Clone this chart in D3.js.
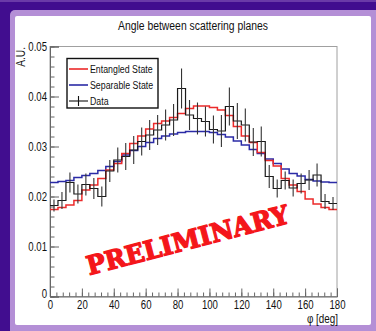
<!DOCTYPE html>
<html>
<head>
<meta charset="utf-8">
<script src="https://cdn.jsdelivr.net/npm/d3@7"></script>
<style>
  body { margin: 0; background: #410d8f; }
  svg { display: block; font-family: "Liberation Sans", Arial, sans-serif; }
</style>
</head>
<body>
<div id="chart"></div>
<script>
// 36 bins of 5 deg, 0..180
const binEdges = d3.range(0, 181, 5);

const entangled = [
  0.0174, 0.0178, 0.0183, 0.0192, 0.0213, 0.0223, 0.0236, 0.0253, 0.0266, 0.0286, 0.0306, 0.0321,
  0.0335, 0.0346, 0.0351, 0.0358, 0.0366, 0.0376, 0.0381, 0.0381, 0.0378, 0.0373, 0.0362, 0.0340,
  0.0321, 0.0308, 0.0288, 0.0272, 0.0261, 0.0236, 0.0223, 0.0210, 0.0195, 0.0185, 0.0178, 0.0174
];
const separable = [
  0.0228, 0.0230, 0.0232, 0.0238, 0.0242, 0.0246, 0.0252, 0.0260, 0.0270, 0.0283, 0.0292, 0.0300,
  0.0308, 0.0316, 0.0321, 0.0325, 0.0328, 0.0330, 0.0330, 0.0330, 0.0328, 0.0324, 0.0319, 0.0311,
  0.0303, 0.0294, 0.0286, 0.0275, 0.0266, 0.0255, 0.0246, 0.0241, 0.0234, 0.0231, 0.0229, 0.0228
];
const dataValues = [
  0.0182, 0.0192, 0.0228, 0.0205, 0.0224, 0.0216, 0.0200, 0.0251, 0.0273, 0.0280, 0.0293, 0.0310,
  0.0323, 0.0333, 0.0343, 0.0353, 0.0416, 0.0363, 0.0356, 0.0350, 0.0334, 0.0331, 0.0380, 0.0351,
  0.0343, 0.0309, 0.0310, 0.0240, 0.0216, 0.0232, 0.0217, 0.0226, 0.0233, 0.0243, 0.0190, 0.0186
];
const dataErrors = [
  0.0012, 0.0017, 0.0020, 0.0019, 0.0022, 0.0021, 0.0020, 0.0022, 0.0025, 0.0027, 0.0028, 0.0028,
  0.0030, 0.0030, 0.0031, 0.0032, 0.0040, 0.0030, 0.0032, 0.0030, 0.0028, 0.0032, 0.0038, 0.0036,
  0.0033, 0.0028, 0.0030, 0.0023, 0.0018, 0.0018, 0.0017, 0.0020, 0.0020, 0.0023, 0.0015, 0.0013
];

const xMajor = d3.range(0, 181, 20);
const xMinor = d3.range(0, 181, 4);
const yMajor = d3.range(0, 0.0501, 0.01);
const yMinor = d3.range(0, 0.0501, 0.002);

const legendItems = [
  { label: "Entangled State", color: "#ec2a2a", type: "line" },
  { label: "Separable State", color: "#2b2ba6", type: "line" },
  { label: "Data", color: "#111", type: "cross" }
];

const W = 376, H = 331;
const svg = d3.select("#chart").append("svg").attr("width", W).attr("height", H);

// purple slide background + lavender frame + white panel
svg.append("rect").attr("width", W).attr("height", H).attr("fill", "#410d8f");
svg.append("rect").attr("x", 0).attr("y", 0).attr("width", W).attr("height", 2).attr("fill", "#6a3aa8");
svg.append("rect").attr("x", 10).attr("y", 10).attr("width", 380).attr("height", 340).attr("rx", 5).attr("fill", "#b48fd6");
svg.append("rect").attr("x", 15).attr("y", 16).attr("width", 356).attr("height", 309).attr("rx", 2).attr("fill", "#fff");

const x = d3.scaleLinear().domain([0, 180]).range([50, 337]);
const y = d3.scaleLinear().domain([0, 0.05]).range([296.5, 46.5]);

function squeeze(sel, k) {
  sel.each(function () {
    const w = this.getComputedTextLength();
    d3.select(this).attr("textLength", w * k).attr("lengthAdjust", "spacingAndGlyphs");
  });
}

// frame
svg.append("rect")
  .attr("x", x(0)).attr("y", y(0.05))
  .attr("width", x(180) - x(0)).attr("height", y(0) - y(0.05))
  .attr("fill", "none").attr("stroke", "#a0a0a0").attr("stroke-width", 1);

// axes, ticks pointing inwards like ROOT
const yAxis = svg.append("g").attr("transform", `translate(${x(0)},0)`)
  .call(d3.axisLeft(y).tickValues(yMajor).tickSize(-9).tickPadding(3)
    .tickFormat(d => (Math.abs(d) < 1e-9 ? "0" : d.toFixed(2))));
svg.append("g").attr("transform", `translate(${x(0)},0)`)
  .call(d3.axisLeft(y).tickValues(yMinor).tickSize(-4.5).tickFormat(""))
  .call(g => g.select(".domain").remove());

const xAxis = svg.append("g").attr("transform", `translate(0,${y(0)})`)
  .call(d3.axisBottom(x).tickValues(xMajor).tickSize(-8).tickPadding(4));
svg.append("g").attr("transform", `translate(0,${y(0)})`)
  .call(d3.axisBottom(x).tickValues(xMinor).tickSize(-4).tickFormat(""))
  .call(g => g.select(".domain").remove());

svg.selectAll(".domain").attr("stroke", "#666");
svg.selectAll(".tick line").attr("stroke", "#666");
yAxis.selectAll("text").attr("font-size", 12).attr("fill", "#111").attr("font-family", "Liberation Sans, Arial").call(squeeze, 0.8);
xAxis.selectAll("text").attr("font-size", 12).attr("fill", "#111").attr("font-family", "Liberation Sans, Arial").call(squeeze, 0.8);
yAxis.selectAll(".tick").filter(d => d === 0).select("text").attr("dy", "0.1em");

// histograms
const stepLine = d3.line()
  .x(d => x(d[0]))
  .y(d => y(d[1]))
  .curve(d3.curveStepAfter);

function histPoints(vals) {
  const pts = vals.map((v, i) => [binEdges[i], v]);
  pts.push([180, vals[vals.length - 1]]);
  return pts;
}

const plot = svg.append("g");

plot.append("path").datum(histPoints(separable))
  .attr("d", stepLine).attr("fill", "none").attr("stroke", "#2b2ba6").attr("stroke-width", 1.5);
plot.append("path").datum(histPoints(entangled))
  .attr("d", stepLine).attr("fill", "none").attr("stroke", "#ec2a2a").attr("stroke-width", 1.5);
plot.append("path").datum(histPoints(dataValues))
  .attr("d", stepLine).attr("fill", "none").attr("stroke", "#1a1a1a").attr("stroke-width", 1.2);

plot.selectAll("line.err").data(dataValues).enter().append("line")
  .attr("class", "err")
  .attr("x1", (d, i) => x(binEdges[i] + 2.5))
  .attr("x2", (d, i) => x(binEdges[i] + 2.5))
  .attr("y1", (d, i) => y(d - dataErrors[i]))
  .attr("y2", (d, i) => y(d + dataErrors[i]))
  .attr("stroke", "#333").attr("stroke-width", 1.1);

// legend
const legend = svg.append("g");
legend.append("rect").attr("x", 67).attr("y", 58.5).attr("width", 91).attr("height", 49.5)
  .attr("fill", "#fff").attr("stroke", "#111").attr("stroke-width", 1.4);
const legendRows = legend.selectAll("g.row").data(legendItems).enter().append("g")
  .attr("class", "row")
  .attr("transform", (d, i) => `translate(0,${69 + i * 16})`);
legendRows.append("line").attr("x1", 69).attr("x2", 88).attr("y1", 0).attr("y2", 0)
  .attr("stroke", d => d.color).attr("stroke-width", d => (d.type === "line" ? 1.6 : 1.1));
legendRows.filter(d => d.type === "cross").append("line")
  .attr("x1", 78.5).attr("x2", 78.5).attr("y1", -5).attr("y2", 5)
  .attr("stroke", "#111").attr("stroke-width", 1.1);
legendRows.append("text").attr("x", 90).attr("y", 3.5)
  .attr("font-size", 10).attr("fill", "#111")
  .text(d => d.label)
  .call(squeeze, 0.88);

// titles
svg.append("text").attr("x", 193).attr("y", 29.5).attr("text-anchor", "middle")
  .attr("font-size", 12).attr("fill", "#111")
  .text("Angle between scattering planes")
  .attr("textLength", 150).attr("lengthAdjust", "spacingAndGlyphs");

svg.append("text").attr("transform", `translate(25,47) rotate(-90)`).attr("text-anchor", "end")
  .attr("font-size", 12).attr("fill", "#111").text("A.U.").call(squeeze, 0.85);

svg.append("text").attr("x", 338).attr("y", 323).attr("text-anchor", "end")
  .attr("font-size", 12).attr("fill", "#111").text("φ [deg]").call(squeeze, 0.82);

// watermark
svg.append("text")
  .attr("transform", "translate(190,249) rotate(-14.6)")
  .attr("text-anchor", "middle")
  .attr("font-family", "DejaVu Serif, serif").attr("font-weight", "bold")
  .attr("font-size", 26).attr("fill", "#f4161a")
  .attr("stroke", "#f4161a").attr("stroke-width", 1.3).attr("stroke-linejoin", "round")
  .attr("textLength", 208).attr("lengthAdjust", "spacingAndGlyphs")
  .text("PRELIMINARY");
</script>
</body>
</html>
